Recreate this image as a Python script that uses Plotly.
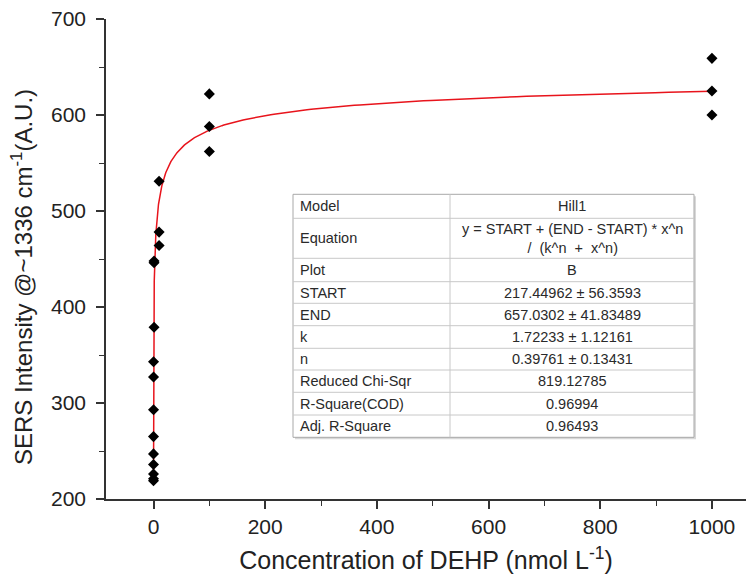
import numpy as np
import plotly.graph_objects as go

# ---- data ----
conc = [0.001, 0.001, 0.001, 0.01, 0.01, 0.01, 0.1, 0.1, 0.1, 1, 1, 1,
        10, 10, 10, 100, 100, 100, 1000, 1000, 1000]
intensity = [219, 221, 226, 236, 247, 265, 293, 327, 343, 379, 446, 448,
             464, 478, 531, 562, 588, 622, 600, 625, 659]

# Hill1 fit parameters (from the fit table)
START, END, K, N = 217.44962, 657.0302, 1.72233, 0.39761

table_labels = ["Model", "Equation", "Plot", "START", "END", "k", "n",
                "Reduced Chi-Sqr", "R-Square(COD)", "Adj. R-Square"]
table_values = ["Hill1", "y = START + (END - START) * x^n<br>/  (k^n  +  x^n)", "B",
                "217.44962 ± 56.3593", "657.0302 ± 41.83489", "1.72233 ± 1.12161",
                "0.39761 ± 0.13431", "819.12785", "0.96994", "0.96493"]

x_ticks = [0, 200, 400, 600, 800, 1000]
y_ticks = [200, 300, 400, 500, 600, 700]

# fit curve
xf = np.concatenate([[0.0], np.geomspace(1e-4, 1000, 600)])
yf = START + (END - START) * xf**N / (K**N + xf**N)

W, H = 746, 579
ML, MR, MT, MB = 106, 0, 19, 80
PW, PH = W - ML - MR, H - MT - MB

def px(xp):
    return (xp - ML) / PW

def py(yp):
    return (H - MB - yp) / PH

FONT = "Liberation Sans, Arial, sans-serif"

fig = go.Figure()
fig.add_trace(go.Scatter(x=xf, y=yf, mode="lines",
                         line=dict(color="#e8141c", width=1.5),
                         hoverinfo="skip", showlegend=False))
fig.add_trace(go.Scatter(x=conc, y=intensity, mode="markers",
                         marker=dict(symbol="diamond", size=8.5, color="black"),
                         showlegend=False))

# ---- fit table ----
tl, tr, tc = 293, 694, 450
rows = [194.3, 218.3, 258.3, 281.7, 303.3, 325.7, 348.3, 370, 392.3, 415, 437.3]
shapes = []
shapes.append(dict(type="rect", xref="paper", yref="paper",
                   x0=px(tl + 2), x1=px(tr + 2), y0=py(rows[-1] + 2), y1=py(rows[0] + 2),
                   line=dict(width=0), fillcolor="#d8d8d8", layer="above"))
shapes.append(dict(type="rect", xref="paper", yref="paper",
                   x0=px(tl), x1=px(tr), y0=py(rows[-1]), y1=py(rows[0]),
                   line=dict(color="#a8a8a8", width=1), fillcolor="white", layer="above"))
for r in rows[1:-1]:
    shapes.append(dict(type="line", xref="paper", yref="paper",
                       x0=px(tl), x1=px(tr), y0=py(r), y1=py(r),
                       line=dict(color="#c8c8c8", width=1), layer="above"))
shapes.append(dict(type="line", xref="paper", yref="paper",
                   x0=px(tc), x1=px(tc), y0=py(rows[-1]), y1=py(rows[0]),
                   line=dict(color="#c8c8c8", width=1), layer="above"))

annotations = []
for i, (lab, val) in enumerate(zip(table_labels, table_values)):
    yc = (rows[i] + rows[i + 1]) / 2
    annotations.append(dict(xref="paper", yref="paper", x=px(tl + 5), y=py(yc),
                            text=lab, showarrow=False, xanchor="left", yanchor="middle",
                            font=dict(family=FONT, size=14.5, color="#2a2a2a")))
    annotations.append(dict(xref="paper", yref="paper", x=px((tc + tr) / 2), y=py(yc),
                            text=val, showarrow=False, xanchor="center", yanchor="middle",
                            align="center",
                            font=dict(family=FONT, size=14.5, color="#2a2a2a")))

# y-axis title as a rotated annotation so it can sit where the reference puts it
annotations.append(dict(xref="paper", yref="paper", x=px(22), y=py(277),
                        text="SERS Intensity @~1336 cm<sup>-1</sup>(A.U.)",
                        textangle=-90, showarrow=False, xanchor="center", yanchor="middle",
                        font=dict(family=FONT, size=24, color="#222")))

fig.update_layout(
    width=W, height=H,
    margin=dict(l=ML, r=MR, t=MT, b=MB),
    paper_bgcolor="white", plot_bgcolor="white",
    font=dict(family=FONT, color="#222"),
    shapes=shapes, annotations=annotations,
    xaxis=dict(range=[-85.05, 1061], tickvals=x_ticks, showgrid=False, zeroline=False,
               showline=True, linecolor="#333", linewidth=1.5,
               ticks="outside", ticklen=8, tickwidth=1.5, tickcolor="#333",
               minor=dict(dtick=100, tick0=0, ticks="outside", ticklen=5, tickwidth=1.2, tickcolor="#333"),
               tickfont=dict(size=21, color="#222"),
               title=dict(text="Concentration of DEHP (nmol L<sup>-1</sup>)",
                          font=dict(size=25, color="#222"), standoff=15)),
    yaxis=dict(range=[200, 700], tickvals=y_ticks, showgrid=False, zeroline=False,
               showline=True, linecolor="#333", linewidth=1.5,
               ticks="outside", ticklen=8, tickwidth=1.5, tickcolor="#333",
               ticklabelstandoff=6,
               minor=dict(dtick=50, tick0=0, ticks="outside", ticklen=5, tickwidth=1.2, tickcolor="#333"),
               tickfont=dict(size=21, color="#222")),
)

fig.write_html("out.html")
